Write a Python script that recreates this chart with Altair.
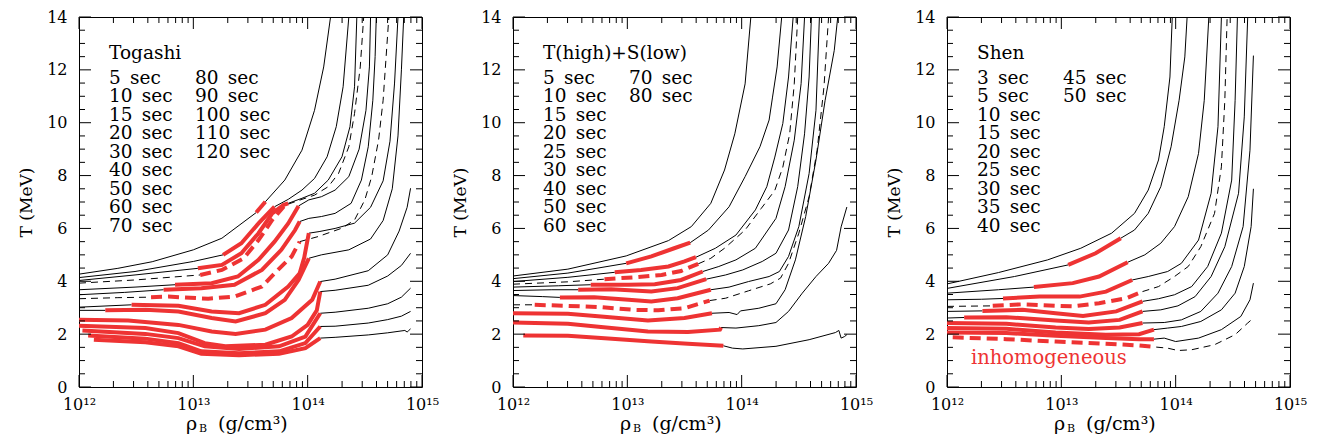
import altair as alt
import pandas as pd

FONT = "DejaVu Serif"
RED = "#ee3333"
W, H = 343, 370

# ---------------- axes ----------------
X_LABEL_VALUES = [1e12, 1e13, 1e14, 1e15]
X_LABELS = ["10¹²", "10¹³", "10¹⁴", "10¹⁵"]
X_MINOR = [k * 10.0 ** e for e in (12, 13, 14) for k in range(2, 10)]
Y_LABEL_VALUES = [0, 2, 4, 6, 8, 10, 12, 14]
Y_MINOR = [0.5, 1, 1.5, 2.5, 3, 3.5, 4.5, 5, 5.5, 6.5, 7, 7.5, 8.5, 9, 9.5,
           10.5, 11, 11.5, 12.5, 13, 13.5]

# ---------------- Togashi (log10 rho, T [MeV]) ----------------
TOG_C1 = [(12.00, 4.27), (12.34, 4.49), (12.64, 4.74), (13.00, 5.19), (13.25, 5.63), (13.55, 6.60),
          (13.63, 7.01), (13.80, 7.83), (13.95, 8.96), (14.06, 10.47), (14.14, 12.11), (14.20, 14.0)]
TOG_C2 = [(12.00, 4.14), (12.49, 4.37), (13.00, 4.75), (13.26, 5.00), (13.42, 5.44), (13.57, 6.19),
          (13.71, 6.82), (13.83, 7.10), (13.95, 7.45), (14.06, 7.89), (14.17, 8.71), (14.25, 9.85),
          (14.31, 11.36), (14.36, 14.0)]
TOG_C3 = [(12.00, 4.03), (12.49, 4.24), (13.04, 4.49), (13.25, 4.62), (13.42, 5.06), (13.57, 5.82),
          (13.69, 6.57), (13.79, 6.89), (13.83, 6.95), (13.95, 7.14), (14.06, 7.33), (14.18, 7.83),
          (14.30, 8.71), (14.37, 9.85), (14.41, 11.36), (14.43, 14.0)]
TOG_C4 = [(12.00, 3.93), (12.49, 4.05), (13.06, 4.24), (13.25, 4.43), (13.44, 4.87), (13.57, 5.56),
          (13.69, 6.32), (13.79, 6.82), (13.83, 6.92), (13.95, 7.10), (14.06, 7.26), (14.18, 7.58),
          (14.27, 8.08), (14.36, 9.09), (14.41, 10.35), (14.46, 12.11), (14.49, 14.0)]
TOG_C5 = [(12.00, 3.68), (12.49, 3.78), (12.84, 3.87), (13.16, 3.93), (13.39, 4.18), (13.57, 4.81),
          (13.71, 5.50), (13.83, 6.19), (13.92, 6.85), (14.01, 7.08), (14.12, 7.20), (14.24, 7.45),
          (14.36, 7.96), (14.45, 9.00), (14.51, 10.47), (14.54, 12.11), (14.55, 14.0)]
TOG_C6 = [(12.00, 3.49), (12.40, 3.58), (12.74, 3.68), (13.07, 3.74), (13.36, 3.87), (13.60, 4.43),
          (13.77, 5.19), (13.89, 5.94), (13.93, 6.26), (14.01, 6.38), (14.12, 6.45), (14.24, 6.57),
          (14.38, 6.95), (14.47, 7.83), (14.53, 9.09), (14.57, 10.85), (14.59, 12.5), (14.60, 14.0)]
TOG_C7 = [(12.00, 3.34), (12.34, 3.38), (12.63, 3.40), (12.78, 3.42), (13.13, 3.34), (13.36, 3.42),
          (13.60, 3.80), (13.74, 4.43), (13.86, 4.94), (13.93, 5.50), (14.09, 5.69), (14.30, 6.01),
          (14.41, 6.32), (14.50, 7.08), (14.56, 7.96), (14.62, 9.34), (14.66, 10.85), (14.71, 14.0)]
TOG_C8 = [(12.00, 3.02), (12.46, 3.11), (12.87, 3.07), (13.16, 2.86), (13.40, 2.79), (13.63, 3.11),
          (13.83, 3.80), (13.93, 4.30), (13.97, 4.90), (14.01, 5.82), (14.10, 5.88), (14.24, 6.00),
          (14.41, 6.20), (14.55, 6.80), (14.66, 7.80), (14.72, 9.30), (14.76, 11.5), (14.79, 14.0)]
TOG_C9 = [(12.00, 2.90), (12.23, 2.90), (12.58, 2.92), (12.87, 2.86), (13.16, 2.61), (13.37, 2.48),
          (13.63, 2.79), (13.80, 3.30), (13.92, 4.05), (14.01, 4.87), (14.12, 5.00), (14.36, 5.19),
          (14.55, 5.60), (14.66, 6.30), (14.74, 7.50), (14.79, 9.50), (14.82, 12.0), (14.84, 14.0)]
TOG_C10 = [(12.00, 2.54), (12.43, 2.52), (12.87, 2.35), (13.16, 2.10), (13.37, 2.01), (13.63, 2.17),
           (13.86, 2.61), (14.04, 3.30), (14.11, 3.99), (14.24, 4.08), (14.53, 4.40), (14.70, 5.00),
           (14.80, 5.90), (14.87, 6.80), (14.90, 7.52)]
TOG_C11 = [(12.00, 2.32), (12.58, 2.23), (12.87, 2.04), (13.10, 1.66), (13.28, 1.54), (13.63, 1.60),
           (13.86, 1.91), (14.00, 2.35), (14.08, 2.90), (14.11, 3.61), (14.24, 3.66), (14.53, 3.85),
           (14.70, 4.20), (14.82, 4.60), (14.90, 5.06)]
TOG_C12 = [(12.03, 2.14), (12.58, 2.01), (12.87, 1.85), (13.10, 1.54), (13.40, 1.44), (13.75, 1.54),
           (13.98, 1.91), (14.11, 2.79), (14.24, 2.83), (14.53, 2.98), (14.70, 3.15), (14.82, 3.40),
           (14.90, 3.74)]
TOG_C13 = [(12.08, 1.95), (12.58, 1.83), (12.87, 1.66), (13.07, 1.35), (13.40, 1.28), (13.75, 1.35),
           (13.98, 1.66), (14.11, 2.29), (14.24, 2.30), (14.53, 2.42), (14.70, 2.55), (14.82, 2.68),
           (14.90, 2.86)]
TOG_C14 = [(12.13, 1.79), (12.58, 1.69), (12.87, 1.54), (13.07, 1.26), (13.40, 1.20), (13.75, 1.26),
           (13.98, 1.47), (14.11, 1.85), (14.24, 1.88), (14.53, 1.97), (14.70, 2.05), (14.85, 2.14),
           (14.87, 2.08), (14.88, 2.12), (14.90, 2.20)]
TOG_CURVES = [TOG_C1, TOG_C2, TOG_C3, TOG_C4, TOG_C5, TOG_C6, TOG_C7, TOG_C8, TOG_C9, TOG_C10,
              TOG_C11, TOG_C12, TOG_C13, TOG_C14]
TOG_RED = [(5, 6), (3, 6), (2, 8), (2, 8), (2, 8), (2, 8), (2, 9), (1, 9), (1, 9), (0, 8),
           (0, 9), (0, 7), (0, 7), (0, 7)]
TOG_DASHED = [3, 6]
TOG_TITLE = "Togashi"
TOG_COL1 = ["5\u2002sec", "10\u2002sec", "15\u2002sec", "20\u2002sec", "30\u2002sec", "40\u2002sec",
            "50\u2002sec", "60\u2002sec", "70\u2002sec"]
TOG_COL2 = ["80\u2002sec", "90\u2002sec", "100\u2002sec", "110\u2002sec", "120\u2002sec"]

# ---------------- T(high)+S(low) ----------------
TS_C1 = [(12.00, 4.20), (12.48, 4.46), (12.99, 4.96), (13.36, 5.54), (13.56, 6.07), (13.73, 6.95),
         (13.85, 8.21), (13.94, 9.58), (14.03, 11.47), (14.08, 13.99)]
TS_C2 = [(12.00, 4.10), (12.48, 4.31), (12.99, 4.68), (13.21, 4.94), (13.41, 5.25), (13.55, 5.46),
         (13.71, 5.94), (13.89, 6.82), (14.03, 7.96), (14.16, 9.09), (14.24, 10.10), (14.27, 10.97),
         (14.31, 12.11), (14.35, 13.99)]
TS_C3 = [(12.00, 3.99), (12.48, 4.15), (12.89, 4.34), (13.12, 4.43), (13.36, 4.56), (13.50, 4.75),
         (13.60, 4.91), (13.77, 5.25), (13.95, 5.75), (14.12, 6.70), (14.22, 7.58), (14.29, 8.70),
         (14.36, 9.97), (14.41, 11.73), (14.45, 13.99)]
TS_C4 = [(12.00, 3.89), (12.48, 3.98), (12.80, 4.08), (13.06, 4.15), (13.30, 4.24), (13.47, 4.39),
         (13.62, 4.66), (13.73, 4.87), (13.85, 5.25), (14.03, 5.94), (14.17, 6.75), (14.29, 7.44),
         (14.36, 8.32), (14.42, 9.58), (14.46, 11.47), (14.49, 13.99)]
TS_C5 = [(12.00, 3.78), (12.40, 3.83), (12.68, 3.87), (13.01, 3.87), (13.24, 3.89), (13.47, 4.05),
         (13.66, 4.37), (13.80, 4.56), (13.95, 4.81), (14.12, 5.25), (14.30, 6.38), (14.38, 7.58),
         (14.46, 9.34), (14.52, 11.48), (14.55, 13.99)]
TS_C6 = [(12.00, 3.65), (12.34, 3.68), (12.57, 3.68), (12.86, 3.70), (13.21, 3.61), (13.44, 3.74),
         (13.69, 4.08), (13.86, 4.24), (14.01, 4.43), (14.18, 4.75), (14.30, 5.06), (14.41, 5.94),
         (14.49, 7.58), (14.55, 9.58), (14.59, 11.73), (14.61, 13.99)]
TS_C7 = [(12.00, 3.46), (12.26, 3.42), (12.41, 3.39), (12.71, 3.40), (13.01, 3.30), (13.21, 3.24),
         (13.44, 3.36), (13.73, 3.68), (13.89, 3.78), (14.06, 3.99), (14.24, 4.18), (14.33, 4.37),
         (14.41, 4.94), (14.50, 6.07), (14.59, 8.08), (14.65, 10.47), (14.68, 13.99)]
TS_C8 = [(12.00, 3.11), (12.19, 3.11), (12.48, 3.07), (12.77, 3.02), (13.06, 2.92), (13.27, 2.90),
         (13.50, 2.98), (13.72, 3.27), (13.86, 3.36), (14.06, 3.64), (14.25, 3.90), (14.34, 4.12),
         (14.41, 4.68), (14.50, 5.82), (14.59, 7.20), (14.66, 8.96), (14.72, 11.36), (14.76, 13.99)]
TS_C9 = [(12.00, 2.79), (12.48, 2.77), (12.77, 2.67), (13.18, 2.52), (13.50, 2.61), (13.74, 2.79),
         (13.89, 2.82), (13.96, 2.74), (13.99, 2.88), (14.15, 2.98), (14.30, 3.15), (14.38, 3.68),
         (14.47, 4.81), (14.56, 6.45), (14.65, 8.59), (14.73, 10.85), (14.81, 12.74), (14.84, 13.99)]
TS_C10 = [(12.00, 2.44), (12.48, 2.39), (12.77, 2.27), (13.18, 2.10), (13.53, 2.08), (13.81, 2.17),
          (13.82, 2.25), (13.95, 2.23), (14.15, 2.32), (14.30, 2.44), (14.41, 2.86), (14.53, 3.55),
          (14.65, 4.18), (14.76, 4.68), (14.83, 5.17), (14.87, 6.06), (14.92, 6.81)]
TS_C11 = [(12.09, 1.95), (12.48, 1.94), (12.77, 1.85), (13.21, 1.72), (13.53, 1.64), (13.84, 1.56),
          (13.92, 1.47), (14.01, 1.44), (14.30, 1.54), (14.59, 1.79), (14.82, 2.06), (14.85, 2.14),
          (14.87, 1.85), (14.90, 1.91), (14.92, 1.98)]
TS_CURVES = [TS_C1, TS_C2, TS_C3, TS_C4, TS_C5, TS_C6, TS_C7, TS_C8, TS_C9, TS_C10, TS_C11]
TS_RED = [None, (2, 5), (2, 6), (2, 6), (2, 6), (2, 6), (2, 7), (1, 7), (0, 5), (0, 6), (0, 5)]
TS_DASHED = [3, 7]
TS_TITLE = "T(high)+S(low)"
TS_COL1 = ["5\u2002sec", "10\u2002sec", "15\u2002sec", "20\u2002sec", "25\u2002sec", "30\u2002sec",
           "40\u2002sec", "50\u2002sec", "60\u2002sec"]
TS_COL2 = ["70\u2002sec", "80\u2002sec"]

# ---------------- Shen ----------------
SH_C1 = [(12.00, 3.90), (12.45, 4.33), (12.88, 4.81), (13.17, 5.25), (13.44, 5.82), (13.64, 6.57),
         (13.76, 7.45), (13.85, 8.59), (13.90, 9.85), (13.95, 11.73), (13.97, 13.99)]
SH_C2 = [(12.00, 3.73), (12.59, 4.18), (13.06, 4.62), (13.30, 5.06), (13.52, 5.63), (13.64, 5.94),
         (13.76, 6.57), (13.87, 7.58), (13.96, 9.09), (14.03, 10.85), (14.08, 12.49), (14.10, 13.99)]
SH_C3 = [(12.00, 3.55), (12.45, 3.68), (12.76, 3.78), (13.10, 3.93), (13.33, 4.18), (13.58, 4.72),
         (13.73, 5.00), (13.87, 5.44), (13.99, 6.07), (14.11, 7.20), (14.20, 8.84), (14.25, 10.85),
         (14.29, 13.99)]
SH_C4 = [(12.00, 3.30), (12.30, 3.32), (12.49, 3.35), (12.81, 3.42), (13.16, 3.42), (13.39, 3.61),
         (13.62, 4.05), (13.76, 4.18), (13.93, 4.37), (14.05, 4.68), (14.20, 5.56), (14.31, 7.33),
         (14.37, 9.85), (14.40, 13.99)]
SH_C5 = [(12.00, 3.05), (12.40, 3.07), (12.66, 3.13), (13.10, 3.05), (13.33, 3.17), (13.57, 3.36),
         (13.71, 3.61), (13.85, 3.80), (13.99, 4.18), (14.11, 4.56), (14.22, 5.31), (14.34, 6.57),
         (14.40, 8.33), (14.43, 10.85), (14.45, 13.99)]
SH_C6 = [(12.00, 2.86), (12.31, 2.88), (12.66, 2.92), (12.95, 2.79), (13.19, 2.69), (13.48, 2.86),
         (13.71, 3.24), (13.85, 3.34), (13.99, 3.49), (14.14, 3.80), (14.28, 4.56), (14.40, 5.82),
         (14.49, 7.83), (14.52, 10.85), (14.54, 13.99)]
SH_C7 = [(12.00, 2.61), (12.15, 2.63), (12.52, 2.64), (12.95, 2.52), (13.24, 2.44), (13.51, 2.54),
         (13.71, 2.86), (13.87, 2.92), (14.02, 3.07), (14.17, 3.42), (14.31, 4.18), (14.43, 5.31),
         (14.55, 7.33), (14.60, 10.22), (14.63, 13.99)]
SH_C8 = [(12.00, 2.42), (12.52, 2.39), (12.95, 2.25), (13.24, 2.19), (13.51, 2.25), (13.71, 2.42),
         (13.90, 2.44), (14.05, 2.54), (14.22, 2.86), (14.37, 3.55), (14.49, 4.56), (14.59, 6.07),
         (14.65, 8.96), (14.68, 12.54)]
SH_C9 = [(12.00, 2.23), (12.52, 2.20), (12.95, 2.06), (13.39, 1.98), (13.68, 2.00), (13.81, 2.17),
         (13.93, 2.23), (14.05, 2.29), (14.22, 2.48), (14.40, 2.92), (14.52, 3.55), (14.60, 4.56),
         (14.66, 6.07), (14.68, 7.50)]
SH_C10 = [(12.00, 2.06), (12.52, 2.04), (12.95, 1.94), (13.39, 1.85), (13.68, 1.81), (13.81, 1.81),
          (13.90, 1.85), (14.00, 1.72), (14.20, 1.85), (14.40, 2.17), (14.57, 2.67), (14.65, 3.30),
          (14.68, 3.93)]
SH_C11 = [(12.05, 1.88), (12.52, 1.81), (12.95, 1.72), (13.39, 1.64), (13.68, 1.57), (13.83, 1.51),
          (13.93, 1.47), (14.02, 1.38), (14.14, 1.41), (14.34, 1.60), (14.52, 1.98), (14.63, 2.42),
          (14.68, 2.61)]
SH_CURVES = [SH_C1, SH_C2, SH_C3, SH_C4, SH_C5, SH_C6, SH_C7, SH_C8, SH_C9, SH_C10, SH_C11]
SH_RED = [None, (2, 4), (2, 5), (2, 6), (1, 6), (1, 6), (1, 6), (0, 5), (0, 5), (0, 5), (0, 5)]
SH_DASHED = [4, 10]
SH_TITLE = "Shen"
SH_COL1 = ["3\u2002sec", "5\u2002sec", "10\u2002sec", "15\u2002sec", "20\u2002sec", "25\u2002sec",
           "30\u2002sec", "35\u2002sec", "40\u2002sec"]
SH_COL2 = ["45\u2002sec", "50\u2002sec"]
SH_NOTE = "inhomogeneous"

# ---------------- layout constants (pixels inside a panel) ----------------
TXT_X1, TXT_X2 = 30, 116
TITLE_Y, ROW_Y0, ROW_DY = 36, 60.5, 18.55
TXT_SIZE = 18.5
MAJOR_LEN, MINOR_LEN = 12, 6

label_expr = " : ".join(
    f"datum.value < {v * 3:.0e} ? '{t}'" for v, t in zip(X_LABEL_VALUES[:-1], X_LABELS[:-1])
) + f" : '{X_LABELS[-1]}'"

XAXIS = alt.Axis(values=X_LABEL_VALUES, labelExpr=label_expr, ticks=False, domain=False, grid=False,
                 labelFont=FONT, labelFontSize=16, labelColor="black", labelPadding=9,
                 labelFlush=False, labelOverlap=False, labelBound=False, title=None)
YAXIS = alt.Axis(values=Y_LABEL_VALUES, ticks=False, domain=False, grid=False, format="d",
                 labelFont=FONT, labelFontSize=16, labelColor="black", labelPadding=12,
                 title="T (MeV)", titleFont=FONT, titleFontSize=17, titleFontWeight="normal",
                 titleColor="black", titlePadding=11)
XSCALE = alt.Scale(type="log", domain=[1e12, 1e15], nice=False)
YSCALE = alt.Scale(domain=[0, 14], nice=False)


def xenc():
    return alt.X("rho:Q", scale=XSCALE, axis=XAXIS)


def yenc():
    return alt.Y("T:Q", scale=YSCALE, axis=YAXIS)


def build_rows(curves, spans, dashed):
    rows = []
    for ci, pts in enumerate(curves):
        span = spans[ci]
        segs = []
        if span is None:
            segs.append(("black", pts))
        else:
            i0, i1 = span
            if i0 > 0:
                segs.append(("black", pts[: i0 + 1]))
            segs.append(("red", pts[i0: i1 + 1]))
            if i1 < len(pts) - 1:
                segs.append(("black", pts[i1:]))
        for si, (col, seg) in enumerate(segs):
            for k, (lg, t) in enumerate(seg):
                rows.append({"seg": f"{ci}_{si}", "col": col, "dash": ci in dashed,
                             "k": k, "rho": 10 ** lg, "T": t})
    return pd.DataFrame(rows)


def line_layers(df):
    out = []
    for col in ("black", "red"):
        for dash in (False, True):
            sub = df[(df["col"] == col) & (df["dash"] == dash)]
            if sub.empty:
                continue
            kw = dict(color="black" if col == "black" else RED,
                      strokeWidth=1 if col == "black" else 4, clip=True)
            if dash:
                kw["strokeDash"] = [7, 5] if col == "black" else [11, 6]
            out.append(alt.Chart(sub).mark_line(**kw).encode(
                x=xenc(), y=yenc(), detail="seg:N", order="k:Q"))
    return out


def tick_layers():
    out = []
    for vals, ln in ((Y_LABEL_VALUES, MAJOR_LEN), (Y_MINOR, MINOR_LEN)):
        d = pd.DataFrame({"T": vals})
        out.append(alt.Chart(d).mark_rule(color="black", strokeWidth=1).encode(
            y=yenc(), x=alt.value(0), x2=alt.value(ln)))
        out.append(alt.Chart(d).mark_rule(color="black", strokeWidth=1).encode(
            y=yenc(), x=alt.value(W - ln), x2=alt.value(W)))
    for vals, ln in ((X_LABEL_VALUES, MAJOR_LEN), (X_MINOR, MINOR_LEN)):
        d = pd.DataFrame({"rho": vals})
        out.append(alt.Chart(d).mark_rule(color="black", strokeWidth=1).encode(
            x=xenc(), y=alt.value(H - ln), y2=alt.value(H)))
        out.append(alt.Chart(d).mark_rule(color="black", strokeWidth=1).encode(
            x=xenc(), y=alt.value(0), y2=alt.value(ln)))
    return out


ONE = pd.DataFrame({"a": [0]})


def text(txt, x, y, size=TXT_SIZE, color="black", align="left"):
    return alt.Chart(ONE).mark_text(align=align, baseline="middle", font=FONT, fontSize=size,
                                    color=color).encode(
        x=alt.value(x), y=alt.value(y), text=alt.value(txt))


def panel(curves, spans, dashed, title, col1, col2, note=None):
    df = build_rows(curves, spans, dashed)
    layers = line_layers(df) + tick_layers()
    layers.append(text(title, TXT_X1, TITLE_Y))
    for i, s in enumerate(col1):
        layers.append(text(s, TXT_X1, ROW_Y0 + i * ROW_DY))
    for i, s in enumerate(col2):
        layers.append(text(s, TXT_X2, ROW_Y0 + i * ROW_DY))
    if note:
        layers.append(text(note, 24, 341, size=19.5, color=RED))
    # x-axis title: rho_B (g/cm^3)
    layers.append(text("ρ", 107, H + 37, size=19))
    layers.append(text("B", 120, H + 42, size=11))
    layers.append(text("(g/cm³)", 139, H + 37, size=19))
    return alt.layer(*layers).properties(width=W, height=H)


p1 = panel(TOG_CURVES, TOG_RED, TOG_DASHED, TOG_TITLE, TOG_COL1, TOG_COL2)
p2 = panel(TS_CURVES, TS_RED, TS_DASHED, TS_TITLE, TS_COL1, TS_COL2)
p3 = panel(SH_CURVES, SH_RED, SH_DASHED, SH_TITLE, SH_COL1, SH_COL2, note=SH_NOTE)

chart = alt.hconcat(p1, p2, p3, spacing=91, bounds="flush").properties(
    padding={"left": 9, "top": 0, "right": 5, "bottom": 3}
).configure_view(stroke="black", strokeWidth=1)

chart.save("out.html", embed_options={"renderer": "svg", "actions": False})
